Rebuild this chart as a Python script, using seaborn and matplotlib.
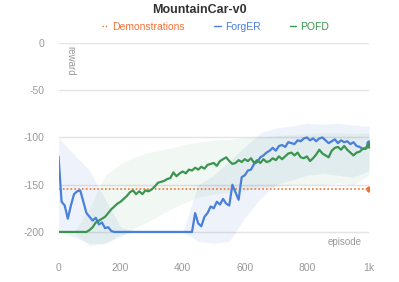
import numpy as np
import pandas as pd
import matplotlib
matplotlib.use("Agg")
import matplotlib.pyplot as plt
import seaborn as sns

#%% Data

episodes = list(range(0, 1001, 10))

forger = [-120, -168, -172, -186, -172, -160, -157, -156, -168, -180,
          -184, -188, -185, -192, -190, -196, -195, -199, -200, -200,
          -200, -200, -200, -200, -200, -200, -200, -200, -200, -200,
          -200, -200, -200, -200, -200, -200, -200, -200, -200, -200,
          -200, -200, -200, -200, -180, -191, -194, -184, -180, -173,
          -175, -168, -171, -165, -170, -172, -150, -158, -166, -142,
          -140, -135, -134, -128, -126, -121, -119, -116, -114, -111,
          -114, -109, -108, -110, -105, -106, -107, -103, -104, -101,
          -100, -103, -101, -104, -101, -100, -103, -106, -104, -102,
          -106, -103, -105, -104, -107, -105, -109, -110, -112, -111,
          -106]

pofd = [-200, -200, -200, -200, -200, -200, -200, -200, -200, -200,
        -198, -195, -190, -188, -186, -184, -180, -176, -173, -170,
        -168, -165, -162, -158, -156, -160, -157, -160, -156, -157,
        -155, -152, -148, -147, -146, -144, -143, -137, -141, -138,
        -136, -138, -134, -135, -132, -134, -131, -133, -129, -128,
        -127, -130, -125, -123, -121, -125, -128, -127, -124, -126,
        -123, -125, -122, -127, -124, -127, -123, -126, -125, -122,
        -124, -120, -123, -120, -117, -116, -119, -116, -121, -122,
        -120, -125, -122, -118, -113, -117, -119, -121, -114, -111,
        -110, -113, -109, -113, -116, -119, -116, -115, -112, -112,
        -108]

band_x = list(range(0, 1001, 50))
forger_hi = [-100, -118, -135, -165, -195, -200, -200, -200, -200, -150, -140,
             -125, -110, -95, -90, -88, -85, -86, -85, -87, -88]
forger_lo = [-200, -205, -212, -212, -203, -200, -200, -200, -200, -210, -212,
             -210, -185, -165, -150, -145, -140, -138, -140, -142, -135]
pofd_hi = [-200, -200, -175, -140, -128, -120, -115, -112, -108, -105, -103,
           -102, -100, -100, -98, -97, -96, -95, -95, -96, -95]
pofd_lo = [-200, -200, -215, -212, -205, -195, -187, -178, -170, -163, -160,
           -158, -156, -153, -152, -150, -150, -150, -148, -150, -140]

demo_x = [0, 1000]
demo_y = [-155, -155]

xticks = [0, 200, 400, 600, 800, 1000]
xticklabels = ["0", "200", "400", "600", "800", "1k"]
yticks = [0, -50, -100, -150, -200]

#%% Plot

sns.set_style("white")
plt.rcParams['font.family'] = ['Liberation Sans', 'DejaVu Sans']
plt.rcParams['axes.unicode_minus'] = False

c_blue = '#4a7fdc'
c_green = '#3b9550'
c_orange = '#ef7438'
c_text = '#9a9a9a'
c_grid = '#e4e4e4'

fig = plt.figure(figsize=(3.99, 2.82), dpi=100)
ax = fig.add_axes([58.5 / 399, 1 - 248 / 282, 310.5 / 399, 205 / 282])

# confidence bands
ax.fill_between(band_x, forger_lo, forger_hi, color=c_blue, alpha=0.09, lw=0)
ax.fill_between(band_x, pofd_lo, pofd_hi, color=c_green, alpha=0.07, lw=0)

# lines
sns.lineplot(x=demo_x, y=demo_y, ax=ax, color=c_orange, lw=1.2,
             linestyle=(0, (1, 1.3)), label='Demonstrations')
sns.lineplot(x=episodes, y=forger, ax=ax, color=c_blue, lw=1.6, label='ForgER')
sns.lineplot(x=episodes, y=pofd, ax=ax, color=c_green, lw=1.6, label='POFD')

ax.plot(demo_x[-1], demo_y[-1], 'o', color=c_orange, ms=3.5)
ax.plot(episodes[-1], forger[-1], 'o', color=c_blue, ms=3.5)
ax.plot(episodes[-1], pofd[-1], 'o', color=c_green, ms=3.5)

ax.set_xlim(0, 1000)
ax.set_ylim(-217, 0)
ax.set_xticks(xticks)
ax.set_xticklabels(xticklabels)
ax.set_yticks(yticks)

for s in ax.spines.values():
    s.set_visible(False)
ax.yaxis.grid(True, color=c_grid, lw=1)
ax.xaxis.grid(False)
ax.tick_params(axis='both', colors=c_grid, labelcolor=c_text, labelsize=7.5,
               length=5, width=1, direction='out')
ax.tick_params(axis='x', pad=6)
ax.tick_params(axis='y', pad=5)
ax.set_xlabel('')
ax.set_ylabel('')

ax.text(0.037, 0.985, 'reward', transform=ax.transAxes, rotation=-90,
        ha='center', va='top', fontsize=7, color=c_text)
ax.text(0.923, 0.03, 'episode', transform=ax.transAxes,
        ha='center', va='center', fontsize=7, color=c_text)

# legend with coloured text
ax.get_legend().remove()
handles, labels = ax.get_legend_handles_labels()
leg = fig.legend(handles, labels, loc='center', bbox_to_anchor=(0.54, 1 - 27 / 282),
                 ncol=3, frameon=False, fontsize=7.5, handlelength=0.6,
                 handletextpad=0.4, columnspacing=2.8, labelcolor='linecolor')
for h in leg.legend_handles:
    h.set_linewidth(1)

fig.text(0.5, 1 - 10 / 282, 'MountainCar-v0', ha='center', va='center',
         fontsize=9, fontweight='bold', color='#333333')

fig.savefig('out.png', dpi=100)
